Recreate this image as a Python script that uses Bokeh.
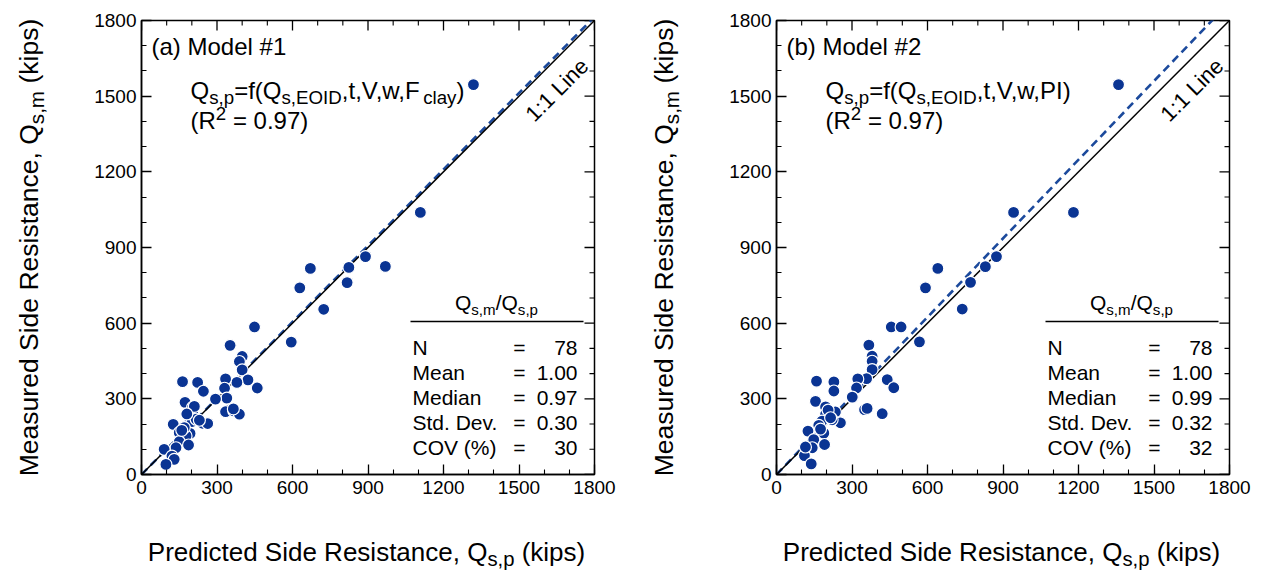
import math
from bokeh.plotting import figure
from bokeh.layouts import row, column
from bokeh.models import Label, Range1d, FixedTicker
from bokeh.embed import file_html
from bokeh.resources import INLINE

# ---------------- data ----------------
pred_a = [671, 629, 817, 724, 824, 449, 595, 352, 400, 389, 400, 423, 460, 379, 334,
          330, 339, 294, 347, 334, 367, 389, 163, 223, 246, 173, 203, 203, 190, 201,
          243, 263, 126, 150, 193, 177, 150, 187, 137, 90, 121, 130, 97, 170, 217,
          890, 969, 1108, 1319, 210, 180, 160, 365, 230]
meas_a = [817, 740, 761, 655, 821, 585, 525, 512, 468, 448, 415, 375, 343, 365, 379,
          342, 303, 299, 255, 249, 252, 239, 368, 365, 330, 286, 266, 246, 226, 210,
          203, 202, 199, 166, 163, 153, 130, 117, 106, 100, 73, 60, 40, 186, 219,
          864, 825, 1039, 1546, 270, 240, 175, 260, 215]

pred_b = [641, 592, 771, 738, 830, 456, 495, 568, 367, 380, 380, 380, 440, 466, 358,
          323, 318, 303, 350, 420, 159, 228, 228, 155, 195, 195, 234, 181, 254, 125,
          188, 148, 191, 142, 111, 138, 115, 168, 221, 301, 874, 942, 1359, 1180,
          205, 175, 360, 215]
meas_b = [817, 740, 762, 656, 824, 585, 585, 526, 513, 469, 449, 416, 376, 344, 380,
          379, 343, 305, 257, 241, 370, 367, 331, 290, 268, 238, 248, 212, 205, 172,
          164, 138, 119, 106, 75, 42, 109, 195, 217, 307, 864, 1039, 1546, 1039,
          255, 180, 262, 225]

fit_slope_a = 1.008
fit_slope_b = 1.04
line_ends = [0, 1800]
axis_ticks = [0, 300, 600, 900, 1200, 1500, 1800]
minor_ticks = list(range(0, 1801, 100))

stat_names = ["N", "Mean", "Median", "Std. Dev.", "COV (%)"]
stats_a = ["78", "1.00", "0.97", "0.30", "30"]
stats_b = ["78", "1.00", "0.99", "0.32", "32"]
r2_a = "0.97"
r2_b = "0.97"

# ---------------- style ----------------
FONT = "Liberation Sans"
DOT = "#0a3493"
FIT = "#1c4a9c"
PW, PH = 635, 576           # one panel
YT_W = 75                   # strip holding the rotated y title
XT_H = 40                   # strip holding the x title
FL, FT, FW, FH = 141, 20, 453, 454   # plotting box inside a panel
MAIN_W, MAIN_H = PW - YT_W, PH - XT_H
PX_PER_UNIT_X = FW / 1800.0
PX_PER_UNIT_Y = FH / 1800.0
LIFT = 0.36                 # label anchor correction, in ems, toward the text's top

ADV = {" ": 278, "#": 556, "%": 889, "(": 333, ")": 333, ",": 278, ".": 278, "/": 278,
       ":": 278, "=": 584, "A": 667, "C": 722, "D": 722, "E": 667, "F": 611, "I": 278,
       "L": 556, "M": 833, "N": 722, "O": 778, "P": 667, "Q": 778, "R": 722, "S": 667,
       "V": 667, "a": 556, "b": 556, "c": 500, "d": 556, "e": 556, "f": 278, "i": 222,
       "k": 500, "l": 222, "m": 833, "n": 556, "o": 556, "p": 556, "r": 333, "s": 500,
       "t": 278, "u": 556, "v": 500, "w": 722, "y": 500}


def text_w(s, size):
    return sum(ADV.get(ch, 556) for ch in s) * size / 1000.0


def rich(p, runs, cx, cy, size, origin, align="left", angle_deg=0.0, sub=0.78):
    """Lay out [(text, 'n'|'sub'|'sup')] runs; (cx, cy) is the baseline anchor in
    panel pixels, origin is the panel pixel of the figure frame's bottom-left corner."""
    a = math.radians(angle_deg)
    dx, dy = math.cos(a), math.sin(a)
    nx, ny = math.sin(a), -math.cos(a)
    sizes = [size * (sub if r != "n" else 1.0) for _, r in runs]
    total = sum(text_w(t, s) for (t, _), s in zip(runs, sizes))
    pos = {"left": 0.0, "center": -total / 2.0, "right": -total}[align]
    x0 = cx - origin[0]
    y0 = origin[1] - cy
    for (t, r), s in zip(runs, sizes):
        # leading blanks are turned into an explicit advance
        lead = len(t) - len(t.lstrip(" "))
        pos += text_w(" " * lead, s)
        t = t.lstrip(" ")
        shift = 0.2 * size if r == "sub" else (-0.4 * size if r == "sup" else 0.0)
        shift -= LIFT * s
        p.add_layout(Label(x=x0 + dx * pos + nx * shift, y=y0 + dy * pos + ny * shift,
                           x_units="screen", y_units="screen", text=t,
                           text_font=FONT, text_font_size=f"{s:.1f}px", text_color="black",
                           text_align="left", text_baseline="alphabetic", angle=a))
        pos += text_w(t, s)


def style_axis(ax, standoff):
    ax.ticker = FixedTicker(ticks=axis_ticks, minor_ticks=minor_ticks)
    ax.axis_line_color = "black"
    ax.axis_line_width = 1.5
    ax.major_tick_in = 10
    ax.major_tick_out = 0
    ax.minor_tick_in = 5
    ax.minor_tick_out = 0
    ax.major_tick_line_color = "black"
    ax.major_tick_line_width = 1.3
    ax.minor_tick_line_color = "black"
    ax.minor_tick_line_width = 1.1
    ax.major_label_text_font = FONT
    ax.major_label_text_color = "black"
    ax.major_label_text_font_size = "19px"
    ax.major_label_standoff = standoff


def strip(w, h, left=0, right=0):
    s = figure(width=w, height=h, title=None, output_backend="svg",
               toolbar_location=None, min_border_left=left, min_border_right=right,
               min_border_top=0, min_border_bottom=0,
               x_axis_location=None, y_axis_location=None)
    s.grid.visible = False
    s.outline_line_color = None
    return s


def panel(pred, meas, slope, tag, fn_runs, r2, stats):
    main_origin = (FL, FT + FH)
    p = figure(width=MAIN_W, height=MAIN_H, x_range=Range1d(0, 1800),
               y_range=Range1d(0, 1800), output_backend="svg", toolbar_location=None,
               min_border_left=FL - YT_W, min_border_right=PW - FL - FW,
               min_border_top=FT, min_border_bottom=MAIN_H - FT - FH)
    p.grid.visible = False
    p.outline_line_color = "black"
    p.outline_line_width = 1.5
    style_axis(p.xaxis[0], 6)
    style_axis(p.yaxis[0], 5)

    # mirrored inward ticks on the top and right edges of the box
    maj_len, min_len = 10 / PX_PER_UNIT_Y, 5 / PX_PER_UNIT_Y
    maj_lx, min_lx = 10 / PX_PER_UNIT_X, 5 / PX_PER_UNIT_X
    minor_only = [t for t in minor_ticks if t not in axis_ticks]
    p.segment(x0=axis_ticks, y0=[1800] * 7, x1=axis_ticks, y1=[1800 - maj_len] * 7,
              line_color="black", line_width=1.3)
    p.segment(x0=minor_only, y0=[1800] * len(minor_only), x1=minor_only,
              y1=[1800 - min_len] * len(minor_only), line_color="black", line_width=1.1)
    p.segment(x0=[1800] * 7, y0=axis_ticks, x1=[1800 - maj_lx] * 7, y1=axis_ticks,
              line_color="black", line_width=1.3)
    p.segment(x0=[1800] * len(minor_only), y0=minor_only,
              x1=[1800 - min_lx] * len(minor_only), y1=minor_only,
              line_color="black", line_width=1.1)

    # regression (dashed) and 1:1 reference line
    p.line(line_ends, [v * slope for v in line_ends], line_color=FIT, line_width=2.6,
           line_dash="8 5")
    p.line(line_ends, line_ends, line_color="black", line_width=1.5)

    p.scatter(pred, meas, size=12, marker="circle", fill_color=DOT,
              line_color="white", line_width=1.2)

    # annotations inside the box
    rich(p, [(tag, "n")], 151, 55, 24, main_origin)
    rich(p, fn_runs, 190, 99, 24, main_origin)
    rich(p, [("(R", "n"), ("2", "sup"), (" = " + r2 + ")", "n")], 190, 129, 24,
         main_origin)
    rich(p, [("1:1 Line", "n")], 562, 95, 22, main_origin, align="center", angle_deg=45)

    # summary table
    rich(p, [("Q", "n"), ("s,m", "sub"), ("/Q", "n"), ("s,p", "sub")], 496, 310, 21,
         main_origin, align="center", sub=0.72)
    ry = (FT + FH - 321) / PX_PER_UNIT_Y
    p.segment(x0=[(410 - FL) / PX_PER_UNIT_X], y0=[ry], x1=[(583 - FL) / PX_PER_UNIT_X],
              y1=[ry], line_color="black", line_width=1.3)
    for i, (name, val) in enumerate(zip(stat_names, stats)):
        base = 355 + 25 * i
        rich(p, [(name, "n")], 412, base, 21, main_origin)
        rich(p, [(val, "n")], 577, base, 21, main_origin, align="right")
        eq_right = min(577 - text_w(val, 21) - 6, 525)
        rich(p, [("=", "n")], eq_right, base, 21, main_origin, align="right")

    # axis titles in their own strips
    yt = strip(YT_W, PH)
    rich(yt, [("Measured Side Resistance, Q", "n"), ("s,m", "sub"), (" (kips)", "n")],
         38, 247, 26.5, (0, PH), align="center", angle_deg=90)
    # the x strip shares the plotting box's left/right borders
    xt = strip(MAIN_W, XT_H, left=FL - YT_W, right=PW - FL - FW)
    rich(xt, [("Predicted Side Resistance, Q", "n"), ("s,p", "sub"), (" (kips)", "n")],
         366, 561, 26, (FL, PH), align="center")
    return row(yt, column(p, xt, spacing=0), spacing=0)


fn_a = [("Q", "n"), ("s,p", "sub"), ("=f(Q", "n"), ("s,EOID", "sub"), (",t,V,w,F", "n"),
        ("clay", "sub"), (")", "n")]
fn_b = [("Q", "n"), ("s,p", "sub"), ("=f(Q", "n"), ("s,EOID", "sub"), (",t,V,w,PI)", "n")]

pa = panel(pred_a, meas_a, fit_slope_a, "(a) Model #1", fn_a, r2_a, stats_a)
pb = panel(pred_b, meas_b, fit_slope_b, "(b) Model #2", fn_b, r2_b, stats_b)

layout = row(pa, pb, spacing=0)
open("out.html", "w").write(file_html(layout, INLINE))
